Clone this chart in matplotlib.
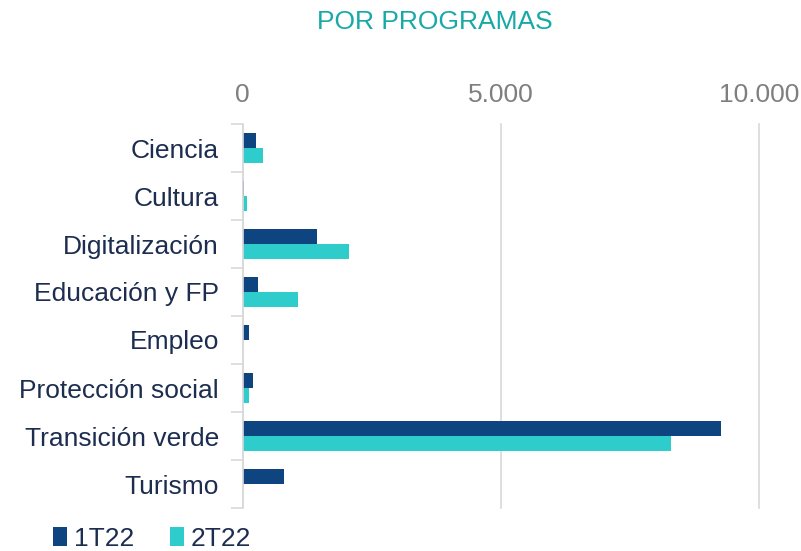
import matplotlib
matplotlib.use("Agg")
import matplotlib.pyplot as plt
import numpy as np

categories = ["Ciencia", "Cultura", "Digitalización", "Educación y FP", "Empleo",
              "Protección social", "Transición verde", "Turismo"]
s1_name = "1T22"
s2_name = "2T22"
s1 = [255, 35, 1450, 305, 130, 210, 9265, 805]
s2 = [400, 80, 2070, 1075, 0, 130, 8300, 0]
xticks = [0, 5000, 10000]
xticklabels = ["0", "5.000", "10.000"]

c1 = "#0E4581"
c2 = "#2ECDCB"
label_col = "#1C2D4F"
font = "Liberation Sans"
fs = 19

fig = plt.figure(figsize=(8.01, 5.51), dpi=100)
ax = fig.add_axes([242.5 / 801, 1 - 508 / 551, 516.5 / 801, 384 / 551])

y = np.arange(len(categories))
h = 0.31
ax.barh(y - h / 2, s1, height=h, color=c1, label=s1_name, zorder=3)
ax.barh(y + h / 2, s2, height=h, color=c2, label=s2_name, zorder=3)

ax.set_ylim(len(categories) - 0.5, -0.5)
ax.set_xlim(0, 10000)
ax.set_xticks(xticks)
ax.set_xticklabels(xticklabels, fontsize=fs, color="#7F7F7F", family=font)
ax.xaxis.tick_top()
ax.tick_params(axis="x", length=0, pad=12)
ax.grid(axis="x", color="#D9D9D9", linewidth=1.2)
for gl in ax.get_xgridlines():
    gl.set_clip_on(False)
ax.set_axisbelow(True)

ax.set_yticks(np.arange(len(categories) + 1) - 0.5, minor=False)
ax.set_yticklabels([])
ax.tick_params(axis="y", which="major", length=9, color="#D9D9D9", width=1.2)
ax.set_yticks(y, minor=True)
ax.set_yticklabels(categories, minor=True, fontsize=fs, color=label_col, family=font)
ax.tick_params(axis="y", which="minor", length=0, pad=17)

for s in ["top", "right", "bottom"]:
    ax.spines[s].set_visible(False)
ax.spines["left"].set_color("#D9D9D9")
ax.spines["left"].set_linewidth(1.2)
ax.spines["left"].set_zorder(4)

fig.text(435 / 801, 1 - 22 / 551, "POR PROGRAMAS", ha="center", va="center",
         fontsize=fs, color="#17A9A8", family=font)

leg = fig.legend(loc="lower left", bbox_to_anchor=(29 / 801, -0.043), ncol=2,
                 frameon=False, handlelength=0.55, handleheight=0.75,
                 handletextpad=0.25, columnspacing=1.35,
                 prop={"family": font, "size": fs})
for t in leg.get_texts():
    t.set_color(label_col)

fig.savefig("out.png", dpi=100)
